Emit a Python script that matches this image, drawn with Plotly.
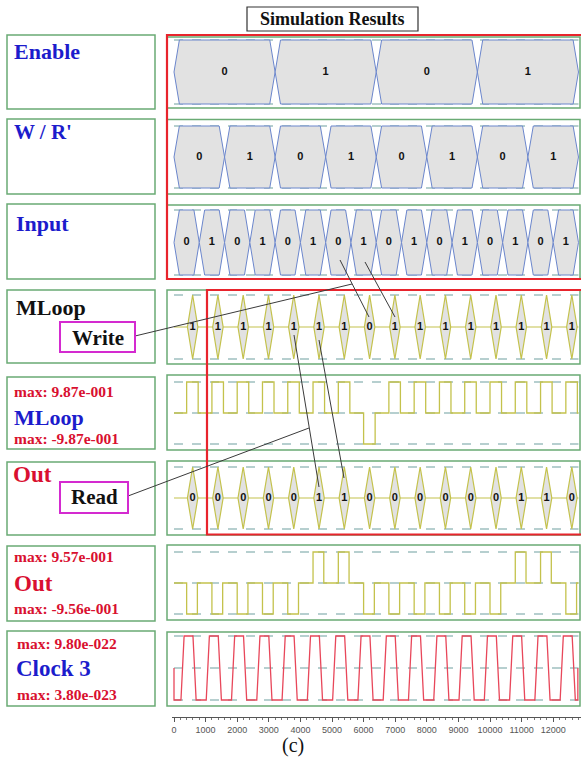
import plotly.graph_objects as go

W, H = 581, 758

# ---------------- data ----------------
enable_bits = [0, 1, 0, 1]
wr_bits = [0, 1, 0, 1, 0, 1, 0, 1]
input_bits = [0, 1, 0, 1, 0, 1, 0, 1, 0, 1, 0, 1, 0, 1, 0, 1]
mloop_bits = [1, 1, 1, 1, 1, 1, 1, 0, 1, 1, 1, 1, 1, 1, 1, 1]
out_bits = [0, 0, 0, 0, 0, 1, 1, 0, 0, 0, 0, 0, 0, 1, 1, 0]
t_end = 12800
clock_period = 800
clock_edges = [220, 320, 600, 700]      # rise start, rise end, fall start, fall end
mloop_pulse = [400, 765]
out_pulse = [400, 740]
diamond_center = 590
tick_vals = list(range(0, 12001, 1000))

row_labels = ["Enable", "W / R'", "Input", "MLoop", "MLoop", "Out", "Out", "Clock 3"]
max_labels = {4: ("max: 9.87e-001", "max: -9.87e-001"),
              6: ("max: 9.57e-001", "max: -9.56e-001"),
              7: ("max: 9.80e-022", "max: 3.80e-023")}

# ---------------- layout geometry (pixels) ----------------
# (green top, dashed top, dashed bottom, green bottom)
rows = [
    (37, 40, 104, 108),
    (119.5, 126, 188, 194),
    (205, 210, 275, 279),
    (290, 295, 359, 364),
    (375, 382, 444, 450),
    (461, 467, 529, 535),
    (545, 552, 614, 620),
    (632, 636, 700, 706),
]
left_boxes = [(35, 109), (119, 194), (204, 279), (290, 363), (377, 449), (462, 535), (546, 621), (631, 706)]

PX0, PXS = 174.0, 0.0316   # px = PX0 + PXS * t
AX_LEFT = 172
t_left = (AX_LEFT - PX0) / PXS
t_right = (581 - PX0) / PXS

def px(x):
    return x / W

def py(y):
    return 1 - y / H

GREEN = "#6aab74"
DASH = "#6f9fa0"
YEL = "#c4c24c"
BLUE_LINE = "#6b86cc"
GRAY_FILL = "#e2e2e2"
RED = "#e8242c"
TXT_BLUE = "#1c1ccc"
TXT_RED = "#d91030"

fig = go.Figure()
shapes = []
annotations = []

layout_axes = {}
for i, (gt, dt, db, gb) in enumerate(rows):
    k = 2.0 / (db - dt)
    rng = [-1 - (gb - db) * k, 1 + (dt - gt) * k]
    name = "yaxis" if i == 0 else f"yaxis{i+1}"
    layout_axes[name] = dict(domain=[py(gb), py(gt)], range=rng, visible=False,
                             fixedrange=True, anchor="x")

def yref(i):
    return "y" if i == 0 else f"y{i+1}"

def dashed(i, levels):
    for lv in levels:
        fig.add_trace(go.Scatter(x=[0, t_end], y=[lv, lv], mode="lines", yaxis=yref(i),
                                 line=dict(color=DASH, width=1.2, dash="dash"),
                                 hoverinfo="skip", showlegend=False))

# ---------------- bus rows (hexagons) ----------------
def bus_row(i, bits, d=170):
    dashed(i, [1, -1])
    seg = t_end / len(bits)
    tx, ty = [], []
    for j, b in enumerate(bits):
        a, c = j * seg, (j + 1) * seg
        xs = [a, a + d, c - d, c, c - d, a + d, a]
        ys = [0, 1, 1, 0, -1, -1, 0]
        fig.add_trace(go.Scatter(x=xs, y=ys, mode="lines", fill="toself", fillcolor=GRAY_FILL,
                                 line=dict(color=BLUE_LINE, width=1), yaxis=yref(i),
                                 hoverinfo="skip", showlegend=False))
        tx.append((a + c) / 2)
        ty.append(0)
    fig.add_trace(go.Scatter(x=tx, y=ty, mode="text", text=[f"<b>{b}</b>" for b in bits], yaxis=yref(i),
                             textfont=dict(family="Liberation Sans", size=11, color="#111"),
                             hoverinfo="skip", showlegend=False))

bus_row(0, enable_bits)
bus_row(1, wr_bits)
bus_row(2, input_bits)

# ---------------- digital rows (diamonds) ----------------
def diamond_row(i, bits, w=330):
    dashed(i, [1, -1])
    fig.add_trace(go.Scatter(x=[0, t_end], y=[0, 0], mode="lines", yaxis=yref(i),
                             line=dict(color=YEL, width=1.2), hoverinfo="skip", showlegend=False))
    tx = []
    for j, b in enumerate(bits):
        c = j * clock_period + diamond_center
        xs = [c, c + w / 2, c, c - w / 2, c]
        ys = [1, 0, -1, 0, 1]
        fig.add_trace(go.Scatter(x=xs, y=ys, mode="lines", fill="toself", fillcolor=GRAY_FILL,
                                 line=dict(color=YEL, width=1.2), yaxis=yref(i),
                                 hoverinfo="skip", showlegend=False))
        tx.append(c)
    fig.add_trace(go.Scatter(x=tx, y=[0] * len(tx), mode="text", text=[f"<b>{b}</b>" for b in bits],
                             yaxis=yref(i), textfont=dict(family="Liberation Sans", size=11, color="#111"),
                             hoverinfo="skip", showlegend=False))

diamond_row(3, mloop_bits)
diamond_row(5, out_bits)

# ---------------- analog rows (pulses) ----------------
def pulse_row(i, bits, on_off, color=YEL):
    dashed(i, [1, 0, -1])
    xs, ys = [0], [0]
    for j, b in enumerate(bits):
        v = 1 if b else -1
        a = j * clock_period + on_off[0]
        c = j * clock_period + on_off[1]
        xs += [a, a, c, c]
        ys += [0, v, v, 0]
    xs.append(t_end)
    ys.append(0)
    fig.add_trace(go.Scatter(x=xs, y=ys, mode="lines", yaxis=yref(i),
                             line=dict(color=color, width=1.3), hoverinfo="skip", showlegend=False))

pulse_row(4, mloop_bits, mloop_pulse)
pulse_row(6, out_bits, out_pulse)

# ---------------- clock ----------------
dashed(7, [1, 0, -1])
cx, cy = [0, 0], [0, -1]
n_clk = t_end // clock_period
for j in range(n_clk):
    base = j * clock_period
    cx += [base + clock_edges[0], base + clock_edges[1], base + clock_edges[2], base + clock_edges[3]]
    cy += [-1, 1, 1, -1]
cx += [t_end - 20, t_end - 20]
cy += [-1, 0]
fig.add_trace(go.Scatter(x=cx, y=cy, mode="lines", yaxis="y8",
                         line=dict(color="#e8475a", width=1.3), hoverinfo="skip", showlegend=False))

# ---------------- frames ----------------
for (gt, dt, db, gb) in rows:
    shapes.append(dict(type="rect", xref="paper", yref="paper", x0=px(167), x1=px(580),
                       y0=py(gb), y1=py(gt), line=dict(color=GREEN, width=1.5)))
for (t, b) in left_boxes:
    shapes.append(dict(type="rect", xref="paper", yref="paper", x0=px(7), x1=px(155),
                       y0=py(b), y1=py(t), line=dict(color=GREEN, width=1.5)))

# red highlight boxes
shapes.append(dict(type="rect", xref="paper", yref="paper", x0=px(167), x1=px(590),
                   y0=py(279), y1=py(35), line=dict(color=RED, width=2.2)))
shapes.append(dict(type="rect", xref="paper", yref="paper", x0=px(207), x1=px(590),
                   y0=py(534.5), y1=py(290), line=dict(color=RED, width=2.2)))

# leader lines
leaders = [((135, 336), (352, 284)), ((340, 260), (369, 317)), ((365, 262), (395, 317)),
           ((294, 335), (319, 487)), ((319, 340), (344, 478)), ((128, 496), (309, 428))]
for (a, b) in leaders:
    shapes.append(dict(type="line", xref="paper", yref="paper", x0=px(a[0]), y0=py(a[1]),
                       x1=px(b[0]), y1=py(b[1]), line=dict(color="#3a3a3a", width=1)))

# Write / Read boxes
shapes.append(dict(type="rect", xref="paper", yref="paper", x0=px(60), x1=px(135),
                   y0=py(352), y1=py(322), line=dict(color="#d42ad0", width=2), fillcolor="white"))
shapes.append(dict(type="rect", xref="paper", yref="paper", x0=px(60), x1=px(128),
                   y0=py(513), y1=py(482), line=dict(color="#d42ad0", width=2), fillcolor="white"))

# title box
shapes.append(dict(type="rect", xref="paper", yref="paper", x0=px(247), x1=px(418),
                   y0=py(31), y1=py(7), line=dict(color="#333", width=1.2)))

def ann(x, y, text, size, color, bold=True, family="Liberation Serif", xanchor="left"):
    annotations.append(dict(x=px(x), y=py(y), xref="paper", yref="paper", showarrow=False,
                            text=f"<b>{text}</b>" if bold else text, xanchor=xanchor, yanchor="middle",
                            font=dict(family=family, size=size, color=color)))

ann(332.5, 19, "Simulation Results", 18, "#111", xanchor="center")
ann(12, 51, row_labels[0], 22, TXT_BLUE)
ann(12, 132, row_labels[1], 21, TXT_BLUE)
ann(14, 223, row_labels[2], 22, TXT_BLUE)
ann(14, 308, row_labels[3], 22, "#111")
ann(97.5, 338, "Write", 21, "#111", xanchor="center")
ann(12, 391, max_labels[4][0], 15.5, TXT_RED)
ann(12, 417, row_labels[4], 22, TXT_BLUE)
ann(12, 438, max_labels[4][1], 15.5, TXT_RED)
ann(11, 474, row_labels[5], 23, TXT_RED)
ann(94, 497, "Read", 21, "#111", xanchor="center")
ann(12, 556, max_labels[6][0], 15.5, TXT_RED)
ann(12, 583, row_labels[6], 23, TXT_RED)
ann(12, 608, max_labels[6][1], 15.5, TXT_RED)
ann(15, 643, max_labels[7][0], 15.5, TXT_RED)
ann(14, 668, row_labels[7], 23, TXT_BLUE)
ann(15, 694, max_labels[7][1], 15.5, TXT_RED)
ann(293, 745, "(c)", 20, "#111", bold=False, xanchor="center")

fig.update_layout(
    width=W, height=H, margin=dict(l=0, r=0, t=0, b=0),
    paper_bgcolor="white", plot_bgcolor="rgba(0,0,0,0)",
    showlegend=False, shapes=shapes, annotations=annotations,
    xaxis=dict(domain=[px(AX_LEFT), 1], range=[t_left, t_right], anchor="free", position=py(717),
               showgrid=False, zeroline=False, showline=True, linecolor="#555", linewidth=1,
               ticks="outside", ticklen=4, tickcolor="#555", tickvals=tick_vals,
               ticktext=[str(v) for v in tick_vals],
               minor=dict(dtick=200, ticks="outside", ticklen=2, tickcolor="#777"),
               tickfont=dict(family="Liberation Sans", size=9, color="#555"), fixedrange=True),
    **layout_axes,
)

fig.write_html("out.html", config={"displayModeBar": False},
               post_script="document.body.style.margin='0px';document.body.style.overflow='hidden';")
